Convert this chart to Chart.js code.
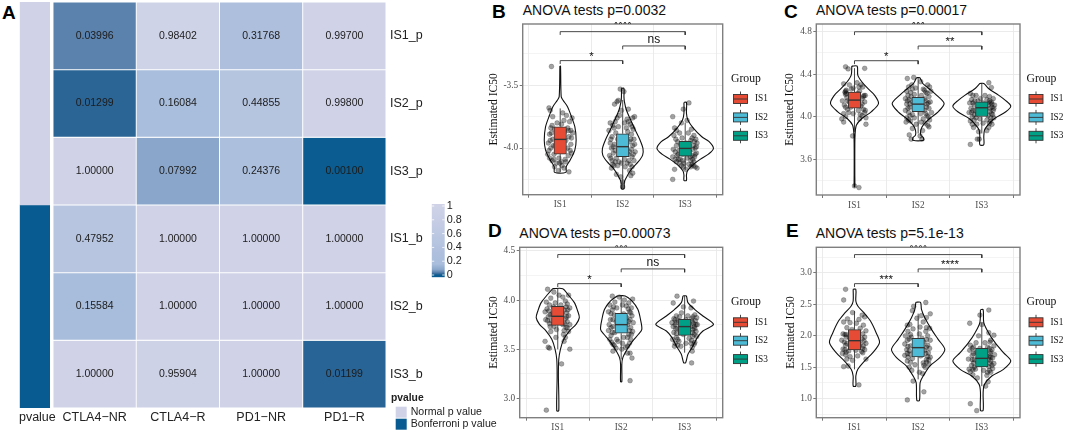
<!DOCTYPE html>
<html>
<head>
<meta charset="utf-8">
<script src="https://cdn.jsdelivr.net/npm/chart.js@4/dist/chart.umd.min.js"></script>
<style>
html, body { margin: 0; padding: 0; background: #fff; overflow: hidden; }
canvas { position: absolute; }
.letter { position: absolute; font: bold 19px "Liberation Sans"; line-height: 19px; color: #000; }
.titulo { position: absolute; font: 14px "Liberation Sans"; line-height: 16px; color: #111; white-space: nowrap; }
</style>
</head>
<body>
<div class="letter" style="left:2px;top:3px">A</div>
<div class="letter" style="left:492px;top:2px">B</div>
<div class="letter" style="left:784px;top:2px">C</div>
<div class="letter" style="left:488px;top:221px">D</div>
<div class="letter" style="left:786px;top:221px">E</div>
<div class="titulo" style="left:522.7px;top:2px">ANOVA tests p=0.0032</div>
<div class="titulo" style="left:816px;top:2px">ANOVA tests p=0.00017</div>
<div class="titulo" style="left:519.3px;top:225px">ANOVA tests p=0.00073</div>
<div class="titulo" style="left:815.7px;top:225px">ANOVA tests p=5.1e-13</div>
<canvas id="tira" width="60" height="432" style="left:0;top:0"></canvas>
<canvas id="mapa" width="500" height="432" style="left:0;top:0"></canvas>
<canvas id="barra" width="50" height="90" style="left:425px;top:195px"></canvas>
<canvas id="panelB" width="288" height="216" style="left:487px;top:0"></canvas>
<canvas id="panelC" width="282" height="216" style="left:783px;top:0"></canvas>
<canvas id="panelD" width="288" height="216" style="left:487px;top:216px"></canvas>
<canvas id="panelE" width="281" height="216" style="left:784px;top:216px"></canvas>
<script>
// heatmap data
const columnas = ["CTLA4\u2212NR", "CTLA4\u2212R", "PD1\u2212NR", "PD1\u2212R"];
const filas = ["IS1_p", "IS2_p", "IS3_p", "IS1_b", "IS2_b", "IS3_b"];
const pIS1_p = [0.03996, 0.98402, 0.31768, 0.99700];
const pIS2_p = [0.01299, 0.16084, 0.44855, 0.99800];
const pIS3_p = [1.00000, 0.07992, 0.24376, 0.00100];
const pIS1_b = [0.47952, 1.00000, 1.00000, 1.00000];
const pIS2_b = [0.15584, 1.00000, 1.00000, 1.00000];
const pIS3_b = [1.00000, 0.95904, 1.00000, 0.01199];
const valoresMapa = [pIS1_p, pIS2_p, pIS3_p, pIS1_b, pIS2_b, pIS3_b];
const tiposP = ["Normal p value", "Bonferroni p value"];
const ticksBarra = [0, 0.2, 0.4, 0.6, 0.8, 1];

// violin panels
const grupos = ["IS1", "IS2", "IS3"];

const vB1y = [-3.346, -3.59, -3.617, -3.67, -3.737, -3.83, -3.936, -4.016, -4.096, -4.149, -4.194];
const vB1w = [0.005, 0.016, 0.043, 0.117, 0.17, 0.234, 0.255, 0.234, 0.16, 0.096, 0.09];
const vB2y = [-3.524, -3.59, -3.63, -3.697, -3.777, -3.856, -3.936, -4.003, -4.056, -4.109, -4.162, -4.215, -4.269, -4.324];
const vB2w = [0.02, 0.02, 0.027, 0.059, 0.128, 0.2, 0.277, 0.324, 0.319, 0.25, 0.149, 0.08, 0.027, 0.02];
const vB3y = [-3.636, -3.723, -3.777, -3.843, -3.91, -3.949, -4.003, -4.048, -4.09, -4.136, -4.181, -4.215, -4.258];
const vB3w = [0.02, 0.02, 0.043, 0.133, 0.266, 0.383, 0.452, 0.372, 0.239, 0.117, 0.037, 0.02, 0.02];
const boxB = [[-4.194, -4.048, -3.931, -3.83, -3.684], [-4.322, -4.069, -3.989, -3.886, -3.617], [-4.176, -4.064, -4.003, -3.947, -3.798]];
const bracketB = [[-3.303, -3.33], [-3.186, -3.213], [-3.072, -3.098]];
const sigB = ["*", "ns", "****"];
const yMayorB = [-4, -3.5];
const yMenorB = [-4.25, -3.75, -3.25];
const ptsB1 = [[-.14,-3.35],[-.18,-3.68],[-.16,-3.70],[.04,-3.72],[-.12,-3.75],[.1,-3.74],[.19,-3.76],[.06,-3.78],[.15,-3.79],[-.05,-3.8],[-.13,-3.82],[.02,-3.81],[-.15,-3.84],[.12,-3.84],[-.09,-3.85],[.07,-3.87],[.17,-3.86],[-.17,-3.89],[-.03,-3.9],[.14,-3.91],[-.12,-3.93],[.09,-3.94],[-.19,-3.96],[.03,-3.97],[.17,-3.97],[-.08,-3.98],[.12,-4.0],[-.15,-4.0],[.05,-4.02],[-.2,-4.05],[.18,-4.04],[-.1,-4.05],[.13,-4.06],[-.17,-4.08],[-.02,-4.08],[.08,-4.09],[-.13,-4.1],[.02,-4.11],[-.06,-4.12],[-.01,-4.12],[-.09,-4.15],[.03,-4.14],[.14,-4.19],[-.03,-4.18],[.06,-4.16],[-.14,-3.88],[.18,-3.92],[-.18,-4.02],[.16,-4.02],[-.11,-3.98],[.2,-3.88],[-.16,-3.94],[.13,-3.86],[-.1,-4.09],[.09,-4.11]];
const ptsB2 = [[-.04,-3.53],[.02,-3.55],[-.07,-3.62],[-.13,-3.65],[-.09,-3.63],[.09,-3.69],[-.02,-3.7],[.19,-3.75],[.16,-3.76],[-.05,-3.74],[.07,-3.77],[-.12,-3.79],[-.2,-3.8],[.03,-3.8],[.12,-3.81],[-.16,-3.82],[-.07,-3.83],[.17,-3.85],[-.22,-3.86],[.08,-3.87],[-.11,-3.88],[.14,-3.89],[-.17,-3.91],[.02,-3.92],[.18,-3.93],[-.08,-3.93],[.11,-3.95],[-.2,-3.96],[-.13,-3.97],[.16,-3.98],[.06,-3.99],[-.18,-4.0],[.14,-4.01],[-.05,-4.02],[.2,-4.03],[-.15,-4.04],[.09,-4.05],[-.21,-4.06],[.15,-4.07],[-.1,-4.08],[.03,-4.09],[-.17,-4.1],[.18,-4.1],[-.06,-4.11],[.07,-4.12],[-.14,-4.14],[.12,-4.13],[-.02,-4.12],[.11,-4.18],[-.18,-4.16],[-.1,-4.21],[.16,-4.2],[.13,-4.22],[0,-4.27],[0,-4.31],[-.03,-4.23],[-.14,-3.84],[.15,-3.83],[-.19,-3.93],[.13,-3.93],[-.15,-3.99],[.19,-3.97],[-.12,-4.02],[.11,-4.03],[-.19,-4.08],[.17,-4.05],[-.12,-4.11],[.1,-4.1],[-.16,-4.13],[.15,-4.15],[-.08,-4.14],[.04,-4.15],[.09,-3.79],[-.09,-3.76],[.06,-3.84]];
const ptsB3 = [[.06,-3.64],[-.03,-3.69],[-.2,-3.75],[-.06,-3.8],[.03,-3.78],[-.17,-3.84],[-.14,-3.86],[.1,-3.85],[-.09,-3.88],[.05,-3.88],[.14,-3.9],[-.18,-3.9],[-.05,-3.92],[.17,-3.93],[.09,-3.94],[-.12,-3.95],[.19,-3.96],[.02,-3.96],[-.07,-3.97],[.13,-3.98],[-.19,-4.01],[.16,-4.0],[-.1,-4.02],[.07,-4.03],[-.16,-4.03],[.18,-4.04],[-.04,-4.05],[.11,-4.06],[-.13,-4.06],[.15,-4.07],[-.2,-4.07],[.03,-4.08],[-.08,-4.09],[.09,-4.1],[.14,-4.11],[-.14,-4.11],[-.02,-4.12],[.06,-4.13],[.11,-4.13],[-.06,-4.14],[.16,-4.15],[-.03,-4.15],[.19,-4.16],[-.17,-4.17],[.01,-4.17],[-.2,-4.25],[.11,-3.92],[-.15,-3.93],[.15,-3.95],[-.14,-3.98],[.18,-3.99],[.12,-4.01],[-.11,-4.05],[.16,-4.05],[.12,-4.09],[-.11,-4.09],[.08,-4.07],[-.04,-4.1],[.13,-4.14],[-.09,-4.12],[.09,-4.15],[-.16,-4.09]];

const vC1y = [4.476, 4.392, 4.329, 4.266, 4.204, 4.125, 4.047, 3.984, 3.922, 3.843, 3.687, 3.467, 3.342];
const vC1w = [0.042, 0.052, 0.115, 0.209, 0.314, 0.377, 0.262, 0.115, 0.031, 0.01, 0.005, 0.005, 0.005];
const vC2y = [4.367, 4.313, 4.266, 4.204, 4.125, 4.047, 3.984, 3.922, 3.875, 3.828, 3.806, 3.78];
const vC2w = [0.026, 0.073, 0.168, 0.288, 0.408, 0.314, 0.183, 0.079, 0.042, 0.042, 0.079, 0.084];
const vC3y = [4.313, 4.266, 4.204, 4.157, 4.1, 4.047, 3.984, 3.922, 3.875, 3.812, 3.737];
const vC3w = [0.031, 0.105, 0.262, 0.366, 0.455, 0.377, 0.199, 0.094, 0.042, 0.031, 0.031];
const boxC = [[3.857, 4.082, 4.157, 4.232, 4.457], [3.843, 4.047, 4.119, 4.182, 4.367], [3.843, 4.003, 4.085, 4.141, 4.313]];
const bracketC = [[4.527, 4.495], [4.665, 4.633], [4.799, 4.768]];
const sigC = ["*", "**", "***"];
const yMayorC = [3.6, 4.0, 4.4, 4.8];
const yMenorC = [3.4, 3.8, 4.2, 4.6];
const ptsC1 = [[-.14,4.47],[-.1,4.45],[.16,4.455],[.04,4.32],[-.17,4.31],[-.08,4.3],[.1,4.3],[.13,4.28],[-.13,4.25],[-.02,4.27],[-.15,4.23],[-.14,4.21],[.08,4.24],[-.05,4.2],[.17,4.2],[.05,4.22],[-.12,4.18],[.12,4.17],[-.19,4.15],[.16,4.14],[-.08,4.14],[.03,4.13],[-.16,4.11],[.1,4.1],[-.06,4.09],[.14,4.07],[-.11,4.07],[.06,4.06],[-.17,4.03],[.16,4.04],[-.02,4.03],[.09,4.02],[-.14,4.0],[.18,3.99],[-.2,3.98],[.08,3.98],[-.17,3.95],[.18,3.93],[-.03,3.82],[.07,3.335],[0,3.35],[-.14,4.24],[-.13,4.22],[.15,4.2],[.14,4.19],[-.11,4.15],[.12,4.12],[-.14,4.09],[.17,4.06],[-.09,4.04],[.12,4.01],[.07,4.28],[-.05,4.26]];
const ptsC2 = [[-.17,4.36],[-.07,4.37],[.04,4.33],[-.1,4.3],[.15,4.3],[.18,4.28],[-.15,4.28],[-.04,4.27],[.08,4.26],[.2,4.24],[-.18,4.24],[-.12,4.23],[.12,4.23],[-.06,4.21],[.05,4.2],[.17,4.19],[-.2,4.17],[-.14,4.16],[.1,4.17],[-.03,4.16],[.19,4.14],[-.09,4.14],[.14,4.12],[-.18,4.12],[.06,4.11],[-.13,4.09],[.17,4.08],[-.06,4.07],[.1,4.06],[-.2,4.06],[.21,4.04],[-.15,4.04],[.04,4.03],[-.09,4.02],[.14,4.01],[-.18,3.99],[.08,3.98],[.18,3.97],[-.12,3.96],[-.19,3.95],[.11,3.94],[-.03,3.93],[.17,3.905],[.15,3.92],[-.09,3.89],[.07,3.87],[-.14,3.83],[-.11,3.79],[.06,3.79],[.03,3.82],[-.16,4.2],[.14,4.22],[-.11,4.19],[.12,4.15],[-.17,4.15],[.16,4.13],[-.13,4.12],[.13,4.09],[-.16,4.08],[.12,4.03],[-.13,4.01],[.16,4.0],[-.06,3.99],[.05,3.95],[-.15,3.97],[.1,4.25],[-.09,4.26]];
const ptsC3 = [[.11,4.32],[.15,4.275],[-.18,4.22],[-.14,4.2],[.05,4.2],[.12,4.19],[-.09,4.2],[-.02,4.17],[.18,4.17],[-.16,4.16],[.08,4.16],[-.06,4.15],[.15,4.14],[-.19,4.13],[.02,4.13],[.2,4.11],[-.12,4.11],[.1,4.11],[-.04,4.09],[.16,4.09],[-.17,4.08],[.06,4.08],[.18,4.06],[-.1,4.06],[.13,4.05],[-.2,4.04],[.04,4.04],[-.07,4.03],[.17,4.02],[.1,4.01],[-.15,4.0],[.19,3.99],[-.03,3.98],[-.12,3.97],[.08,3.97],[-.18,3.96],[.14,3.96],[.02,3.94],[-.08,3.93],[.16,3.93],[-.13,3.9],[.11,3.9],[.08,3.87],[-.05,3.86],[-.07,3.79],[-.04,3.79],[-.18,3.74],[.13,4.13],[-.14,4.13],[.16,4.12],[-.11,4.15],[.13,4.08],[-.14,4.06],[.15,4.03],[-.12,4.02],[.12,4.15],[.19,4.08],[-.16,4.04],[.14,3.99],[-.09,3.99],[.12,3.94],[-.15,3.93]];

const vD1y = [4.116, 4.059, 3.974, 3.889, 3.821, 3.753, 3.685, 3.601, 3.499, 3.397, 3.227, 2.874];
const vD1w = [0.079, 0.157, 0.262, 0.314, 0.34, 0.288, 0.183, 0.094, 0.042, 0.016, 0.01, 0.016];
const vD2y = [4.042, 3.991, 3.906, 3.804, 3.702, 3.652, 3.584, 3.499, 3.414, 3.346, 3.17];
const vD2w = [0.063, 0.168, 0.262, 0.304, 0.325, 0.272, 0.183, 0.094, 0.026, 0.01, 0.01];
const vD3y = [4.042, 3.974, 3.906, 3.838, 3.753, 3.685, 3.618, 3.533, 3.448, 3.363];
const vD3w = [0.026, 0.052, 0.157, 0.288, 0.455, 0.288, 0.199, 0.131, 0.052, 0.016];
const boxD = [[3.499, 3.743, 3.835, 3.937, 4.116], [3.397, 3.662, 3.75, 3.865, 4.042], [3.465, 3.641, 3.73, 3.804, 4.042]];
const bracketD = [[4.167, 4.133], [4.317, 4.283], [4.463, 4.429]];
const sigD = ["*", "ns", "***"];
const yMayorD = [3.0, 3.5, 4.0, 4.5];
const yMenorD = [3.25, 3.75, 4.25];
const ptsD1 = [[-.16,4.11],[-.06,4.08],[.17,4.05],[.02,4.05],[.08,4.03],[-.11,4.02],[.12,3.99],[-.18,3.98],[-.04,3.97],[.15,3.96],[-.13,3.95],[.05,3.95],[-.07,3.93],[.19,3.92],[-.17,3.91],[.1,3.9],[.01,3.9],[-.2,3.88],[.14,3.87],[-.09,3.86],[.07,3.86],[.17,3.84],[-.15,3.83],[-.03,3.83],[.12,3.81],[-.19,3.8],[.04,3.8],[-.1,3.79],[.15,3.78],[-.13,3.76],[.08,3.75],[.19,3.75],[-.06,3.73],[.13,3.72],[-.02,3.7],[.17,3.68],[-.11,3.68],[.09,3.65],[.12,3.62],[-.03,3.62],[-.2,3.58],[.1,3.58],[-.15,3.52],[-.13,3.51],[.19,3.5],[.06,3.35],[-.18,2.88],[.13,3.93],[-.14,3.89],[.16,3.9],[-.12,3.85],[.14,3.83],[-.16,3.79],[.11,3.76],[-.12,3.73],[.15,3.72],[.1,3.69]];
const ptsD2 = [[-.14,4.04],[-.03,4.03],[.18,4.01],[.05,4.0],[-.1,3.98],[.12,3.97],[-.18,3.95],[.02,3.95],[.08,3.94],[-.07,3.92],[.16,3.92],[-.14,3.9],[-.2,3.88],[.13,3.88],[.04,3.86],[-.11,3.85],[.17,3.84],[-.05,3.83],[.09,3.82],[-.17,3.8],[.14,3.8],[-.08,3.78],[.19,3.77],[-.19,3.75],[.1,3.75],[-.13,3.73],[.15,3.72],[-.02,3.71],[.06,3.7],[-.2,3.69],[.18,3.68],[-.1,3.67],[.12,3.65],[-.16,3.64],[.04,3.62],[-.07,3.6],[.15,3.6],[-.15,3.57],[.02,3.56],[-.11,3.54],[.1,3.53],[-.08,3.51],[-.13,3.48],[.14,3.46],[.1,3.46],[.01,3.5],[.17,3.41],[.14,3.18],[-.12,3.93],[.11,3.91],[-.16,3.86],[.15,3.87],[-.13,3.8],[.12,3.78],[-.16,3.72],[.13,3.69],[-.14,3.67],[.16,3.65],[-.18,3.6],[.1,3.62],[-.13,3.55],[.13,3.56],[.07,3.52],[-.05,3.58]];
const ptsD3 = [[-.12,4.04],[.14,3.99],[-.18,3.97],[-.02,3.93],[.1,3.92],[-.05,3.87],[.16,3.85],[-.13,3.84],[.05,3.84],[-.08,3.83],[.19,3.82],[-.17,3.81],[.11,3.81],[.02,3.8],[-.1,3.79],[.17,3.79],[-.2,3.77],[.07,3.77],[.14,3.76],[-.15,3.75],[.2,3.75],[-.04,3.74],[.09,3.73],[-.18,3.73],[.16,3.71],[-.11,3.71],[.04,3.7],[-.07,3.69],[.18,3.68],[.12,3.67],[-.17,3.67],[-.02,3.65],[.15,3.65],[.19,3.63],[-.13,3.62],[.07,3.61],[-.19,3.6],[.11,3.59],[-.09,3.58],[.16,3.57],[-.15,3.56],[.02,3.56],[-.11,3.54],[-.06,3.53],[.12,3.52],[.12,3.48],[.11,3.36],[.13,3.83],[-.15,3.8],[.12,3.78],[-.13,3.77],[.15,3.73],[-.14,3.71],[.13,3.7],[-.13,3.66],[.13,3.63],[-.11,3.6],[.1,3.56],[-.16,3.53],[.15,3.55],[.18,3.75]];

const vE1y = [2.74, 2.554, 2.475, 2.369, 2.236, 2.05, 1.891, 1.732, 1.599, 1.467, 1.361, 1.202];
const vE1w = [0.021, 0.021, 0.052, 0.147, 0.251, 0.34, 0.393, 0.288, 0.157, 0.052, 0.021, 0.021];
const vE2y = [2.533, 2.422, 2.289, 2.103, 1.944, 1.785, 1.653, 1.52, 1.361, 1.255, 0.973];
const vE2w = [0.037, 0.052, 0.105, 0.209, 0.314, 0.419, 0.34, 0.183, 0.079, 0.031, 0.021];
const vE3y = [2.416, 2.21, 2.05, 1.891, 1.732, 1.599, 1.467, 1.361, 1.228, 1.095, 0.814];
const vE3w = [0.021, 0.031, 0.105, 0.209, 0.34, 0.455, 0.34, 0.157, 0.042, 0.021, 0.021];
const boxE = [[1.467, 1.775, 1.923, 2.098, 2.395], [1.308, 1.663, 1.812, 1.96, 2.353], [1.2, 1.504, 1.642, 1.801, 2.21]];
const bracketE = [[2.83, 2.777], [3.064, 3.011], [3.292, 3.239]];
const sigE = ["***", "****", "****"];
const yMayorE = [1.0, 1.5, 2.0, 2.5, 3.0];
const yMenorE = [0.75, 1.25, 1.75, 2.25, 2.75, 3.25];
const ptsE1 = [[-.14,2.74],[-.17,2.57],[-.03,2.37],[.12,2.33],[-.11,2.27],[.07,2.26],[.16,2.3],[-.17,2.22],[-.07,2.21],[.03,2.2],[.14,2.17],[-.12,2.13],[.09,2.12],[-.04,2.1],[.18,2.08],[-.18,2.03],[-.13,2.02],[.05,2.0],[.16,1.98],[-.08,1.97],[.12,1.95],[-.2,1.93],[-.02,1.92],[.18,1.88],[.09,1.87],[-.14,1.85],[.14,1.84],[-.05,1.83],[-.18,1.79],[.16,1.78],[.02,1.77],[-.09,1.76],[-.19,1.72],[.13,1.73],[-.14,1.7],[-.07,1.67],[.05,1.68],[-.12,1.63],[-.03,1.61],[.18,1.63],[-.17,1.51],[-.1,1.52],[.07,1.22],[-.15,2.02],[-.13,1.98],[.13,2.03],[-.16,1.9],[.15,1.92],[-.12,1.88],[.13,1.8],[-.15,1.78],[.11,1.75],[-.13,1.74]];
const ptsE2 = [[.12,2.53],[-.07,2.47],[.19,2.35],[-.09,2.4],[.05,2.32],[-.02,2.28],[.13,2.29],[-.17,2.17],[.08,2.22],[-.13,2.18],[.03,2.14],[.18,2.12],[-.08,2.11],[-.16,2.07],[.12,2.07],[.02,2.03],[-.2,2.0],[.15,2.0],[-.11,1.98],[.06,1.96],[-.17,1.93],[.19,1.93],[.09,1.9],[-.05,1.88],[-.21,1.87],[.15,1.85],[-.12,1.84],[.02,1.82],[.18,1.8],[-.18,1.78],[.1,1.77],[-.06,1.75],[.16,1.73],[-.13,1.71],[-.21,1.69],[.04,1.68],[.19,1.66],[-.09,1.64],[.13,1.62],[-.17,1.6],[.08,1.57],[.17,1.55],[-.05,1.54],[-.14,1.5],[.11,1.5],[-.1,1.45],[.02,1.42],[.07,1.4],[-.08,1.28],[.09,1.11],[-.17,.98],[-.14,1.95],[.13,1.94],[-.16,1.83],[.13,1.82],[-.14,1.76],[.12,1.72],[-.16,1.66],[.15,1.67],[-.12,1.58],[.13,1.58],[.17,1.62],[-.17,1.72],[.09,1.53],[-.12,2.02],[.13,2.13]];
const ptsE3 = [[.11,2.41],[-.03,2.33],[-.19,2.2],[0,2.18],[.11,2.05],[.19,2.01],[-.05,2.0],[.14,1.93],[-.09,1.89],[.05,1.89],[-.18,1.85],[.19,1.84],[-.13,1.82],[.09,1.82],[-.03,1.8],[.16,1.78],[-.19,1.77],[.04,1.75],[-.09,1.74],[.13,1.72],[.2,1.7],[-.15,1.69],[.07,1.68],[-.02,1.66],[.17,1.65],[.11,1.63],[-.21,1.63],[-.12,1.62],[.14,1.6],[-.06,1.58],[.19,1.56],[.05,1.55],[-.16,1.53],[.11,1.51],[-.2,1.47],[.17,1.48],[-.1,1.47],[.03,1.45],[.14,1.42],[-.18,1.43],[-.14,1.38],[.08,1.37],[-.07,1.33],[.1,1.27],[.06,1.2],[-.18,.92],[-.08,.81],[.12,1.8],[-.15,1.8],[.14,1.75],[-.13,1.72],[.12,1.67],[-.15,1.62],[.14,1.66],[.13,1.56],[-.13,1.57],[.16,1.53],[-.12,1.5],[.12,1.45],[-.14,1.46],[.09,1.42],[.13,1.9]];

// colores
const coloresGrupo = ["#E64B35", "#4DBBD5", "#00A087"];
const escalaColor = [[0, "#085b90"], [0.0125, "#2a6496"], [0.04, "#5b82ad"], [0.08, "#8aa7cb"], [0.16, "#a9bedc"], [0.32, "#aebfdd"], [0.48, "#b7c5e0"], [1, "#d0d3e8"]];

function hexRgb(h) {
    return [1, 3, 5].map(i => parseInt(h.slice(i, i + 2), 16));
}

// color de una celda segun su p
function colorP(p) {
    for (let i = 1; i < escalaColor.length; i++) {
        let [v0, c0] = escalaColor[i - 1];
        let [v1, c1] = escalaColor[i];
        if (p <= v1) {
            let t = (p - v0) / (v1 - v0);
            let a = hexRgb(c0), b = hexRgb(c1);
            return `rgb(${a.map((x, k) => Math.round(x + (b[k] - x) * t)).join(",")})`;
        }
    }
    return escalaColor[escalaColor.length - 1][1];
}

Chart.defaults.animation = false;
Chart.defaults.responsive = false;
Chart.defaults.plugins.legend.display = false;
Chart.defaults.plugins.tooltip.enabled = false;

const sansAxis = { family: "Liberation Sans", size: 12.5 };

// tira izquierda
new Chart(document.getElementById("tira"), {
    type: "bar",
    data: {
        labels: ["pvalue"],
        datasets: [
            { data: [3], backgroundColor: "#d0d3e8", borderWidth: 0 },
            { data: [3], backgroundColor: "#085b90", borderWidth: 0 }
        ]
    },
    options: {
        layout: { padding: { left: 19.7, right: 10, top: 2 } },
        scales: {
            x: {
                stacked: true, grid: { display: false, drawTicks: false }, border: { display: false },
                ticks: { color: "#222", font: sansAxis, padding: 2, labelOffset: 2.5, maxRotation: 0 },
                afterFit: s => { s.height = 24; s.paddingLeft = 0; s.paddingRight = 0; }
            },
            y: { stacked: true, reverse: true, min: 0, max: 6, display: false }
        },
        datasets: { bar: { categoryPercentage: 1, barPercentage: 1 } }
    }
});

// textos de celdas y leyenda de la derecha
const textoMapa = {
    id: "textoMapa",
    afterDatasetsDraw(chart) {
        let ctx = chart.ctx;
        ctx.save();
        ctx.font = '10.5px "Liberation Sans"';
        ctx.fillStyle = "#1c1c1c";
        ctx.textAlign = "center";
        ctx.textBaseline = "middle";
        valoresMapa.forEach((fila, f) => {
            chart.getDatasetMeta(f).data.forEach((barra, c) => {
                let pos = barra.getProps(["x", "y", "base"], true);
                ctx.fillText(fila[c].toFixed(5), pos.x, (pos.y + pos.base) / 2);
            });
        });
        ctx.textAlign = "left";
        ctx.font = 'bold 10.3px "Liberation Sans"';
        ctx.fillStyle = "#222";
        ctx.fillText("pvalue", 391, 398.5);
        ctx.font = '10.6px "Liberation Sans"';
        tiposP.forEach((t, i) => {
            ctx.fillStyle = i == 0 ? "#d0d3e8" : "#085b90";
            ctx.fillRect(395.7, 406.7 + i * 12, 11, 11);
            ctx.fillStyle = "#222";
            ctx.fillText(t, 410.7, 412.3 + i * 12);
        });
        ctx.restore();
    }
};

// heatmap
new Chart(document.getElementById("mapa"), {
    type: "bar",
    data: {
        labels: columnas,
        datasets: valoresMapa.map(fila => ({
            data: fila.map(() => 1),
            backgroundColor: fila.map(colorP),
            borderColor: "#fff",
            borderWidth: 0.8,
            borderSkipped: false
        }))
    },
    options: {
        layout: { padding: { left: 53, top: 2, right: 0 } },
        scales: {
            x: {
                stacked: true, grid: { display: false, drawTicks: false }, border: { display: false },
                ticks: { color: "#222", font: sansAxis, padding: 2, maxRotation: 0 },
                afterFit: s => { s.height = 24; s.paddingLeft = 0; s.paddingRight = 0; }
            },
            y: { stacked: true, reverse: true, min: 0, max: 6, display: false },
            yFilas: {
                type: "category", labels: filas, position: "right", offset: true,
                grid: { display: false, drawTicks: false }, border: { display: false },
                ticks: { color: "#222", font: sansAxis, padding: 4, crossAlign: "near" },
                afterFit: s => { s.width = 114; s.paddingTop = 0; s.paddingBottom = 0; }
            }
        },
        datasets: { bar: { categoryPercentage: 1, barPercentage: 1 } }
    },
    plugins: [textoMapa]
});

// barra de color
const marcasBarra = {
    id: "marcasBarra",
    afterDatasetsDraw(chart) {
        let ctx = chart.ctx, a = chart.chartArea, y = chart.scales.y;
        ctx.save();
        ctx.strokeStyle = "#fff";
        ctx.lineWidth = 0.8;
        ticksBarra.forEach(t => {
            ctx.beginPath();
            ctx.moveTo(a.left, y.getPixelForValue(t));
            ctx.lineTo(a.left + 2.5, y.getPixelForValue(t));
            ctx.moveTo(a.right - 2.5, y.getPixelForValue(t));
            ctx.lineTo(a.right, y.getPixelForValue(t));
            ctx.stroke();
        });
        ctx.restore();
    }
};

new Chart(document.getElementById("barra"), {
    type: "bar",
    data: {
        labels: ["p"],
        datasets: [{
            data: [[-0.033, 1.029]],
            backgroundColor(c) {
                let a = c.chart.chartArea;
                if (!a) return "#d0d3e8";
                let y = c.chart.scales.y;
                let g = c.chart.ctx.createLinearGradient(0, a.bottom, 0, a.top);
                escalaColor.forEach(([v, col]) => {
                    g.addColorStop((y.getPixelForValue(v) - a.bottom) / (a.top - a.bottom), col);
                });
                g.addColorStop(1, "#d0d3e8");
                return g;
            },
            borderWidth: 0,
            categoryPercentage: 1,
            barPercentage: 1
        }]
    },
    options: {
        layout: { padding: { left: 6.7, top: 9, bottom: 7.7 } },
        scales: {
            x: { display: false },
            y: {
                position: "right", min: -0.033, max: 1.029,
                grid: { display: false, drawTicks: false }, border: { display: false },
                afterBuildTicks: s => { s.ticks = ticksBarra.map(value => ({ value })); },
                ticks: { color: "#222", autoSkip: false, font: { family: "Liberation Sans", size: 10.8 }, padding: 2, callback: v => String(v) },
                afterFit: s => { s.width = 30.3; s.paddingTop = 0; s.paddingBottom = 0; }
            }
        }
    },
    plugins: [marcasBarra]
});

// marco, corchetes, leyenda de cada panel
function adornosPanel(cfg) {
    return {
        id: "adornos",
        afterDatasetsDraw(chart) {
            let ctx = chart.ctx, a = chart.chartArea, x = chart.scales.x, y = chart.scales.y;
            ctx.save();
            ctx.strokeStyle = "#7f7f7f";
            ctx.lineWidth = 1.4;
            ctx.strokeRect(a.left, a.top, a.right - a.left, a.bottom - a.top);

            // etiquetas de significancia, recortadas por el panel
            ctx.save();
            ctx.beginPath();
            ctx.rect(a.left, a.top - 2, a.right - a.left, a.bottom - a.top + 2);
            ctx.clip();
            ctx.fillStyle = "#111";
            ctx.textAlign = "center";
            ctx.textBaseline = "alphabetic";
            cfg.sig.forEach((s, i) => {
                let cx = x.getPixelForValue(i == 2 ? 2 : 1.5 + i);
                let py = y.getPixelForValue(cfg.bracket[i][0]);
                if (s == "ns") {
                    ctx.font = '12px "Liberation Sans"';
                    ctx.fillText(s, cx, py - 3);
                } else {
                    ctx.font = '11.5px "Liberation Sans"';
                    ctx.fillText(s, cx, py - (i == 2 ? 3.5 : 1));
                }
            });
            ctx.restore();

            // leyenda Group
            let lx = a.right + cfg.legX;
            ctx.fillStyle = "#111";
            ctx.textAlign = "left";
            ctx.textBaseline = "middle";
            ctx.font = '11.7px "Liberation Serif"';
            ctx.fillText("Group", lx - 2.5, a.top + 55);
            ctx.font = '9.3px "Liberation Serif"';
            grupos.forEach((g, i) => {
                let ky = a.top + 75 + i * 18.4;
                ctx.strokeStyle = "#333";
                ctx.lineWidth = 0.9;
                ctx.beginPath();
                ctx.moveTo(lx + 7, ky - 7.5);
                ctx.lineTo(lx + 7, ky + 7.5);
                ctx.stroke();
                ctx.fillStyle = coloresGrupo[i];
                ctx.fillRect(lx, ky - 4.5, 14, 9);
                ctx.strokeRect(lx, ky - 4.5, 14, 9);
                ctx.beginPath();
                ctx.moveTo(lx, ky);
                ctx.lineTo(lx + 14, ky);
                ctx.stroke();
                ctx.fillStyle = "#111";
                ctx.fillText(g, lx + 21.5, ky);
            });
            ctx.restore();
        }
    };
}

function linea(data, orden, ancho, color) {
    return {
        type: "scatter", showLine: true, data, order: orden, pointRadius: 0,
        borderWidth: ancho, borderColor: color, backgroundColor: "transparent", clip: false
    };
}

// arma un panel violin con sus listas
function panelViolin(id, cfg) {
    let datasets = [];
    grupos.forEach((g, i) => {
        let cx = i + 1;
        let vy = cfg.vy[i], vw = cfg.vw[i];
        let izquierda = vy.map((v, k) => ({ x: cx - vw[k], y: v }));
        let derecha = vy.map((v, k) => ({ x: cx + vw[k], y: v })).reverse();
        let contorno = izquierda.concat(derecha);
        contorno.push(contorno[0]);
        let violin = linea(contorno, 6, 1.1, "#111");
        violin.tension = 0.3;
        datasets.push(violin);

        datasets.push({
            type: "scatter",
            data: cfg.pts[i].map(p => ({ x: cx + p[0], y: p[1] })),
            order: 5, pointRadius: 2.4, pointBorderWidth: 0.6,
            backgroundColor: "rgba(0,0,0,0.36)", borderColor: "rgba(0,0,0,0.36)"
        });

        let b = cfg.box[i];
        datasets.push(linea([{ x: cx, y: b[0] }, { x: cx, y: b[1] }], 4, 0.9, "#333"));
        datasets.push(linea([{ x: cx, y: b[3] }, { x: cx, y: b[4] }], 4, 0.9, "#333"));
        datasets.push(linea([{ x: cx - 0.1, y: b[2] }, { x: cx + 0.1, y: b[2] }], 2, 1.4, "#333"));
    });

    // una sola serie de cajas para que no se agrupen de lado
    datasets.push({
        type: "bar",
        data: cfg.box.map((b, i) => ({ x: i + 1, y: [b[1], b[3]] })),
        order: 3, barThickness: 12.5,
        backgroundColor: coloresGrupo, borderColor: "#333", borderWidth: 1, borderSkipped: false
    });

    // corchetes
    [[1, 2], [2, 3], [1, 3]].forEach((par, i) => {
        let [nivel, punta] = cfg.bracket[i];
        datasets.push(linea([
            { x: par[0], y: punta }, { x: par[0], y: nivel },
            { x: par[1], y: nivel }, { x: par[1], y: punta }
        ], 1, 0.9, "#333"));
    });

    return new Chart(document.getElementById(id), {
        type: "scatter",
        data: { datasets },
        options: {
            layout: { padding: { left: 0, top: cfg.top, right: cfg.right, bottom: 0 } },
            scales: {
                x: {
                    type: "linear", min: 0.4, max: 3.6, offset: false,
                    grid: { color: "#e9e9e9", lineWidth: 0.9, tickLength: 3, tickColor: "#666" },
                    border: { display: false },
                    afterBuildTicks: s => { s.ticks = [1, 2, 3].map(value => ({ value })); },
                    ticks: {
                        color: "#4d4d4d", padding: 1.5, font: { family: "Liberation Serif", size: 9.3 },
                        callback: v => grupos[v - 1]
                    },
                    afterFit: s => { s.height = cfg.abajo; }
                },
                y: {
                    min: cfg.ymin, max: cfg.ymax,
                    title: { display: true, text: "Estimated IC50", color: "#111", padding: 0, font: { family: "Liberation Serif", size: 11.6 } },
                    grid: {
                        color: "#e9e9e9",
                        lineWidth: c => cfg.mayor.includes(c.tick.value) ? 0.9 : 0.5,
                        tickLength: 3,
                        tickColor: c => cfg.mayor.includes(c.tick.value) ? "#666" : "transparent"
                    },
                    border: { display: false },
                    afterBuildTicks: s => { s.ticks = cfg.mayor.concat(cfg.menor).sort((p, q) => p - q).map(value => ({ value })); },
                    ticks: {
                        color: "#4d4d4d", padding: 1.5, autoSkip: false, font: { family: "Liberation Serif", size: 9.3 },
                        callback: v => cfg.mayor.includes(v) ? v.toFixed(1) : ""
                    },
                    afterFit: s => { s.width = cfg.izq; }
                }
            }
        },
        plugins: [adornosPanel(cfg)]
    });
}

panelViolin("panelB", {
    vy: [vB1y, vB2y, vB3y], vw: [vB1w, vB2w, vB3w], pts: [ptsB1, ptsB2, ptsB3],
    box: boxB, bracket: bracketB, sig: sigB, mayor: yMayorB, menor: yMenorB,
    ymin: -4.372, ymax: -3.011, izq: 35.7, top: 24, right: 52.3, abajo: 21.3, legX: 10.8
});
panelViolin("panelC", {
    vy: [vC1y, vC2y, vC3y], vw: [vC1w, vC2w, vC3w], pts: [ptsC1, ptsC2, ptsC3],
    box: boxC, bracket: bracketC, sig: sigC, mayor: yMayorC, menor: yMenorC,
    ymin: 3.265, ymax: 4.872, izq: 33.3, top: 24, right: 45, abajo: 21, legX: 9
});
panelViolin("panelD", {
    vy: [vD1y, vD2y, vD3y], vw: [vD1w, vD2w, vD3w], pts: [ptsD1, ptsD2, ptsD3],
    box: boxD, bracket: bracketD, sig: sigD, mayor: yMayorD, menor: yMenorD,
    ymin: 2.803, ymax: 4.537, izq: 32.7, top: 31.3, right: 52.3, abajo: 14.3, legX: 10.8
});
panelViolin("panelE", {
    vy: [vE1y, vE2y, vE3y], vw: [vE1w, vE2w, vE3w], pts: [ptsE1, ptsE2, ptsE3],
    box: boxE, bracket: bracketE, sig: sigE, mayor: yMayorE, menor: yMenorE,
    ymin: 0.698, ymax: 3.408, izq: 32.3, top: 31.3, right: 45, abajo: 14.3, legX: 9
});
</script>
</body>
</html>
